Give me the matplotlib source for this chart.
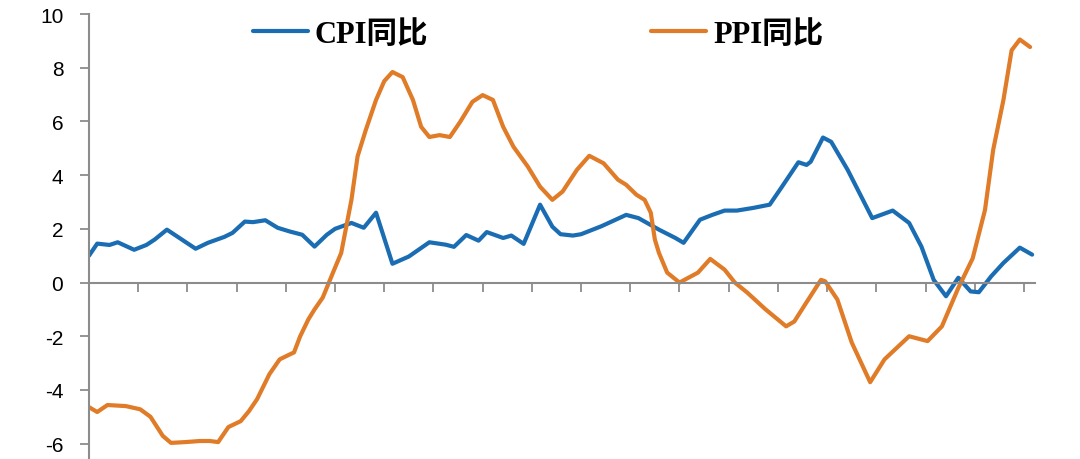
import matplotlib
matplotlib.use('Agg')
import matplotlib.pyplot as plt

# CPI / PPI year-on-year (%); x = month index
cpi_month = [0, 2, 5, 7, 11, 14, 16, 19, 26, 29, 33, 35, 38, 40, 43, 46, 49, 52, 55, 58,
             60, 64, 67, 70, 74, 78, 83, 87, 89, 92, 95, 97, 101, 103, 106, 110, 113, 115,
             118, 120, 125, 131, 134, 139, 143, 145, 149, 152, 155, 158, 162, 166, 169,
             173, 175, 176, 179, 181, 185, 191, 196, 200, 203, 206, 209, 212, 215, 217,
             220, 223, 227, 230]
cpi_value = [1.0, 1.45, 1.4, 1.5, 1.22, 1.4, 1.6, 1.97, 1.26, 1.48, 1.7, 1.85, 2.27, 2.25,
             2.32, 2.04, 1.9, 1.78, 1.34, 1.78, 2.0, 2.22, 2.04, 2.6, 0.7, 0.97, 1.5, 1.41,
             1.33, 1.77, 1.56, 1.88, 1.66, 1.75, 1.44, 2.9, 2.08, 1.8, 1.75, 1.8, 2.1, 2.52,
             2.4, 1.97, 1.66, 1.48, 2.34, 2.52, 2.68, 2.68, 2.78, 2.9, 3.57, 4.48, 4.38,
             4.5, 5.4, 5.24, 4.2, 2.4, 2.68, 2.22, 1.34, 0.1, -0.51, 0.18, -0.33, -0.36,
             0.23, 0.73, 1.3, 1.04]

ppi_month = [0, 2, 4.5, 9, 12.5, 15, 18, 20, 23.5, 27, 29.5, 31.5, 34, 37, 39, 41, 44,
             46.5, 48.5, 50, 51.5, 53.5, 55, 57, 59.5, 61.5, 64, 65.5, 67.5, 70, 72, 74,
             76.5, 79, 81, 83, 85.5, 88, 90.5, 93.5, 96, 98.5, 101, 103.5, 107, 110, 113,
             115.5, 119, 122, 125.5, 129, 131, 133.5, 135.5, 137, 138, 139, 141, 144,
             148.5, 151.5, 155, 157.5, 160.5, 165, 170, 172, 174.5, 178.5, 179.5, 182.5,
             186, 190.5, 194, 200, 204.5, 208, 212, 215.5, 218.5, 220.5, 223, 225, 227,
             229.5]
ppi_value = [-4.64, -4.82, -4.56, -4.6, -4.72, -5.0, -5.71, -5.97, -5.94, -5.9, -5.9,
             -5.94, -5.38, -5.16, -4.79, -4.34, -3.41, -2.86, -2.71, -2.6, -2.0, -1.37,
             -1.0, -0.56, 0.37, 1.1, 3.08, 4.7, 5.68, 6.8, 7.5, 7.84, 7.65, 6.8, 5.8, 5.42,
             5.49, 5.42, 5.98, 6.73, 6.98, 6.8, 5.8, 5.06, 4.32, 3.57, 3.08, 3.39, 4.2,
             4.72, 4.44, 3.83, 3.64, 3.27, 3.08, 2.6, 1.6, 1.1, 0.37, 0.0, 0.37, 0.88, 0.48,
             0.0, -0.37, -1.0, -1.63, -1.45, -0.85, 0.1, 0.05, -0.63, -2.23, -3.71, -2.86,
             -2.0, -2.18, -1.63, -0.2, 0.9, 2.7, 4.94, 6.8, 8.65, 9.05, 8.77]

yticks = [-6, -4, -2, 0, 2, 4, 6, 8, 10]
xticks = list(range(12, 231, 12))

plt.rcParams['axes.unicode_minus'] = False
plt.rcParams['font.family'] = ['Liberation Sans', 'DejaVu Sans']

fig = plt.figure(figsize=(10.8, 4.6), dpi=100)
ax = fig.add_axes([89 / 1080, 0, 946 / 1080, 445 / 460])

blue = '#1B6DB3'
orange = '#E07B28'
ax.plot(cpi_month, cpi_value, color=blue, lw=3, solid_joinstyle='round',
        solid_capstyle='round', label='CPI同比')
ax.plot(ppi_month, ppi_value, color=orange, lw=3, solid_joinstyle='round',
        solid_capstyle='round', label='PPI同比')

ax.set_xlim(0, 230.7)
ax.set_ylim(-6.57, 10)

grey = '#8C8C8C'
for s in ['top', 'right']:
    ax.spines[s].set_visible(False)
ax.spines['left'].set_color(grey)
ax.spines['left'].set_linewidth(1.5)
ax.spines['bottom'].set_position(('data', 0))
ax.spines['bottom'].set_color(grey)
ax.spines['bottom'].set_linewidth(1.5)

ax.set_yticks(yticks)
ax.set_xticks(xticks)
ax.set_xticklabels([])
ax.tick_params(axis='y', direction='out', length=6.5, width=1.3, color=grey,
               labelsize=15, pad=12)
ax.tick_params(axis='x', direction='out', length=6.5, width=1.3, color=grey)

leg = ax.legend(loc='center left', bbox_to_anchor=(253 / 1080, 1 - 35 / 460),
                bbox_transform=fig.transFigure, ncol=2, frameon=False,
                handlelength=1.8, handletextpad=0.22, columnspacing=7.3,
                borderpad=0, borderaxespad=0,
                prop={'family': ['Liberation Serif', 'Noto Sans CJK SC'],
                      'weight': 'bold', 'size': 22})
for line in leg.get_lines():
    line.set_linewidth(3)

fig.savefig('out.png', dpi=100, facecolor='white')
